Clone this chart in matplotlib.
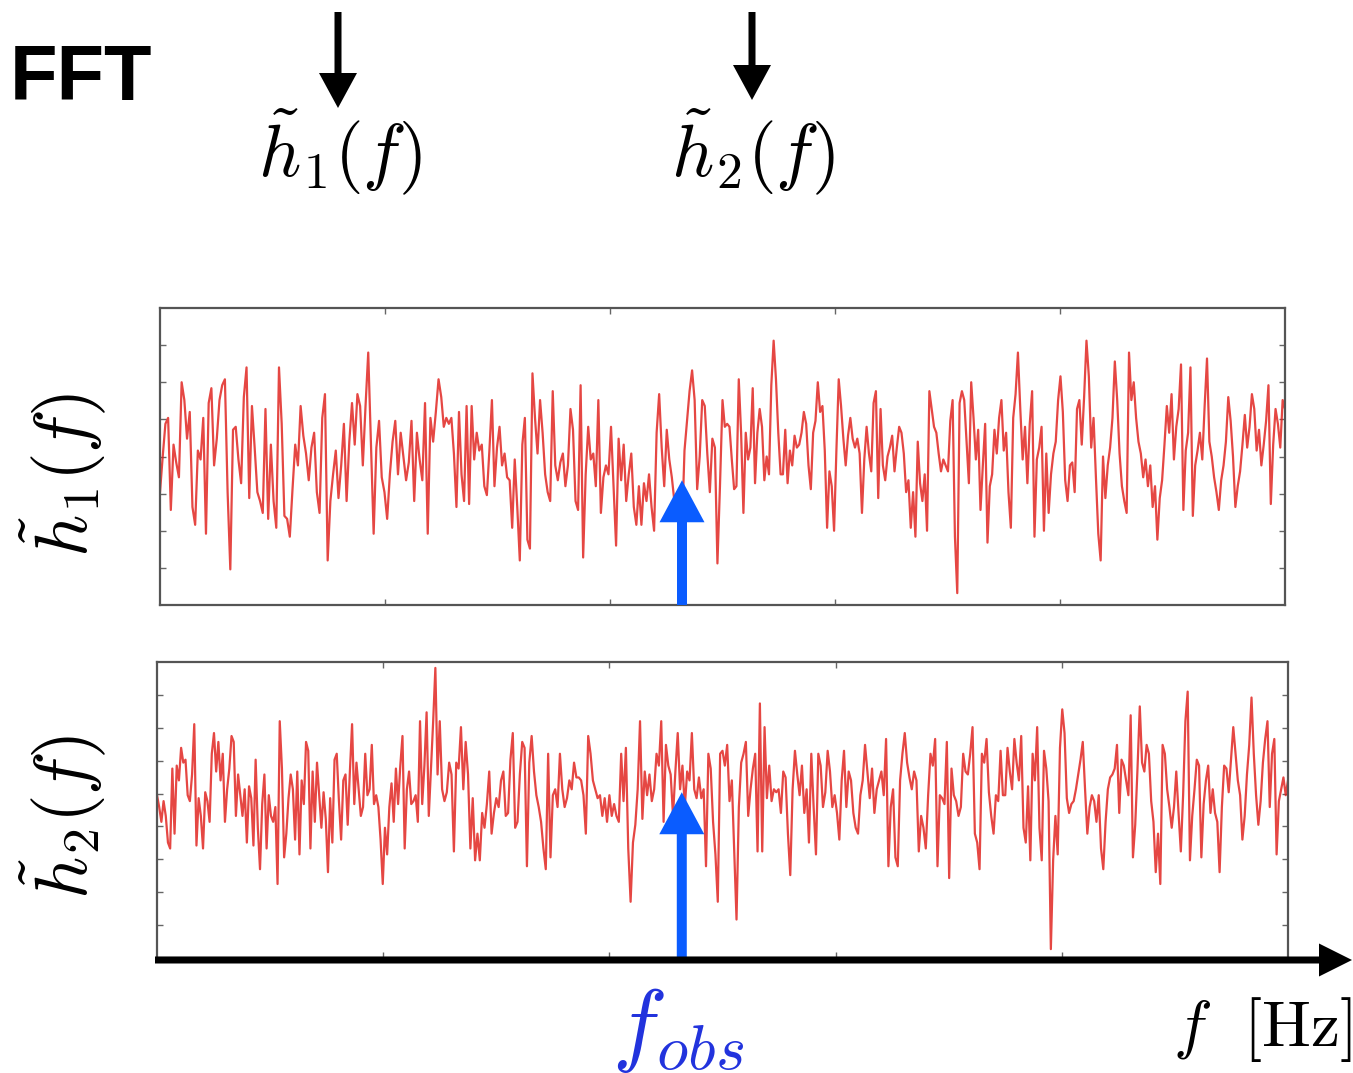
import numpy as np
import matplotlib.pyplot as plt
from matplotlib.patches import FancyArrow

plt.rcParams['mathtext.fontset'] = 'cm'

# |h1(f)|, one list per quarter of the band (0-100 = panel height)
h1_q1 = [38, 50, 61, 63, 32, 54, 48, 43, 75, 69, 56, 65, 33, 27, 52, 49, 63, 24, 68, 73,
         47, 56, 69, 74, 76, 38, 12, 59, 60, 49, 41, 70, 80, 36, 67, 53, 38, 35, 31, 66,
         29, 54, 35, 26, 80, 61, 30, 29, 23, 39, 54, 47, 67, 57, 51, 42, 53, 58, 38, 31,
         63, 71, 15, 35, 44, 52, 36, 47, 61, 35, 55, 68, 54, 71, 67, 47, 67, 85, 55, 24,
         53, 62, 43, 38, 29, 44, 55, 62, 44, 58, 50, 42, 48, 62, 35, 58, 49, 42, 68, 24,
         63, 55, 65, 76]
h1_q2 = [70, 60, 63, 61, 63, 51, 33, 65, 44, 35, 67, 34, 67, 49, 58, 52, 54, 40, 37, 52,
         69, 40, 53, 60, 47, 51, 43, 42, 26, 49, 33, 15, 54, 63, 22, 19, 78, 63, 51, 69,
         58, 44, 38, 35, 72, 47, 42, 48, 51, 40, 47, 66, 59, 35, 32, 74, 16, 44, 60, 49,
         51, 40, 69, 31, 43, 47, 44, 60, 40, 20, 56, 42, 54, 35, 44, 51, 33, 27, 40, 27,
         41, 35, 44, 33, 25, 58, 71, 53, 40, 59, 49, 43, 35, 33, 31, 25, 52, 62, 72, 79,
         69, 39, 50, 69, 67, 51, 38, 56, 53, 14, 40]
h1_q3 = [69, 60, 61, 60, 49, 39, 40, 76, 58, 31, 58, 49, 53, 73, 41, 58, 66, 60, 42, 50,
         44, 74, 89, 76, 58, 44, 44, 59, 41, 52, 47, 57, 53, 54, 58, 65, 61, 47, 39, 58,
         62, 75, 65, 67, 52, 26, 45, 40, 25, 52, 76, 67, 56, 47, 57, 63, 56, 53, 56, 51,
         31, 49, 60, 51, 45, 68, 72, 36, 66, 47, 42, 50, 53, 57, 45, 53, 60, 58, 51, 38,
         42, 26, 38, 23, 55, 41, 35, 44, 25, 72, 66, 60, 58, 51, 45, 49, 47, 45, 62, 69,
         23, 4, 68, 72, 69, 55, 41, 75, 63, 49, 59, 32, 47, 61, 21, 40, 44, 59, 51, 63, 69]
h1_q4 = [52, 58, 38, 26, 63, 71, 85, 66, 49, 60, 41, 61, 72, 23, 49, 53, 60, 25, 51, 31,
         44, 51, 55, 69, 77, 65, 42, 35, 47, 48, 38, 66, 69, 54, 70, 89, 77, 53, 63, 43,
         24, 15, 50, 36, 47, 53, 63, 82, 69, 51, 40, 35, 31, 85, 69, 75, 63, 55, 51, 43,
         49, 40, 47, 33, 40, 22, 36, 42, 54, 67, 58, 71, 49, 60, 66, 81, 32, 52, 58, 80,
         30, 47, 52, 58, 49, 67, 83, 55, 50, 43, 38, 32, 42, 47, 55, 70, 62, 50, 33, 40,
         45, 54, 64, 53, 60, 71, 66, 52, 59, 47, 54, 62, 74, 34, 54, 66, 61, 53, 69, 66]

# |h2(f)| from the lower panel
h2_q1 = [55, 51, 46, 53, 48, 39, 37, 64, 42, 65, 60, 71, 66, 67, 55, 53, 62, 79, 38, 54,
         48, 37, 56, 53, 46, 69, 76, 63, 73, 60, 69, 46, 57, 64, 75, 73, 48, 62, 55, 48,
         57, 39, 58, 54, 38, 67, 44, 30, 52, 62, 37, 55, 48, 46, 51, 25, 80, 64, 34, 42,
         54, 62, 57, 40, 63, 35, 60, 52, 73, 70, 37, 63, 46, 66, 55, 44, 56, 47, 29, 54,
         39, 67, 69, 53, 40, 60, 62, 45, 63, 79, 52, 66, 57, 48, 51, 69, 55, 57, 72, 52,
         55, 51, 40, 25, 44, 35, 51, 59, 46, 64, 52, 65, 75, 37, 57, 63, 52, 53, 55, 46,
         80, 52, 65, 83, 48, 64, 80, 98, 62]
h2_q2 = [80, 57, 53, 56, 66, 62, 36, 66, 64, 78, 57, 73, 62, 37, 54, 33, 42, 33, 49, 44,
         52, 63, 42, 49, 54, 51, 60, 63, 48, 49, 67, 76, 44, 46, 62, 73, 71, 31, 66, 75,
         63, 55, 51, 46, 37, 30, 69, 34, 55, 57, 51, 69, 57, 51, 54, 60, 57, 66, 61, 61,
         60, 55, 42, 75, 69, 60, 57, 54, 55, 48, 54, 46, 55, 48, 52, 48, 46, 69, 53, 71,
         37, 19, 39, 45, 57, 80, 47, 63, 55, 62, 53, 57, 69, 65, 80, 46, 72, 65, 62, 48,
         63, 76, 57, 65, 51, 63, 60, 76, 57, 54, 61, 54, 57, 31, 69, 64, 46, 35, 19, 69]
h2_q3 = [70, 65, 72, 53, 60, 37, 13, 51, 66, 69, 73, 48, 57, 64, 69, 36, 86, 36, 78, 54,
         65, 53, 57, 56, 57, 49, 63, 61, 42, 28, 57, 70, 62, 55, 65, 49, 57, 39, 69, 51,
         35, 69, 65, 51, 56, 70, 63, 51, 55, 49, 40, 60, 70, 51, 63, 60, 49, 44, 42, 55,
         60, 72, 63, 54, 64, 49, 57, 60, 63, 55, 74, 31, 51, 57, 34, 31, 60, 69, 76, 66,
         61, 57, 63, 60, 36, 48, 44, 37, 55, 69, 65, 74, 31, 55, 54, 52, 73, 27, 64, 55,
         53, 48, 51, 69, 63, 62, 69, 78, 42, 39, 30, 69, 66, 74, 56, 48, 42, 55, 53, 70, 55]
h2_q4 = [55, 71, 63, 57, 74, 66, 60, 75, 44, 39, 58, 33, 69, 60, 78, 44, 33, 70, 64, 53,
         3, 33, 48, 35, 71, 84, 76, 54, 49, 52, 53, 57, 62, 67, 73, 57, 42, 51, 55, 53,
         46, 55, 37, 30, 46, 57, 61, 62, 64, 72, 49, 67, 65, 60, 55, 82, 34, 45, 64, 85,
         66, 63, 72, 69, 53, 46, 29, 42, 25, 72, 69, 57, 51, 44, 51, 63, 49, 36, 55, 80,
         90, 33, 48, 57, 67, 65, 34, 52, 60, 65, 49, 57, 49, 46, 29, 51, 65, 64, 56, 67,
         78, 69, 60, 55, 40, 48, 62, 72, 88, 69, 55, 45, 53, 66, 74, 80, 51, 69, 74, 35,
         53, 57, 61, 55, 60]

f_obs = 0.464          # fraction of the plotted band
h1_tip, h2_tip = 42, 56  # where the blue arrows stop (% of panel height)

W, H = 1353, 1073
fig = plt.figure(figsize=(W / 100, H / 100), dpi=100)
ax1 = fig.add_axes([160 / W, 1 - 605 / H, 1125 / W, 297 / H])
ax2 = fig.add_axes([157 / W, 1 - 958 / H, 1131 / W, 296 / H])


def spread(bands):
    xs = [np.linspace(k / 4, (k + 1) / 4, len(b), endpoint=(k == 3)) for k, b in enumerate(bands)]
    return np.concatenate(xs), np.concatenate(bands)


for ax, bands, ndiv in [(ax1, [h1_q1, h1_q2, h1_q3, h1_q4], 8),
                        (ax2, [h2_q1, h2_q2, h2_q3, h2_q4], 9)]:
    x, y = spread(bands)
    ax.plot(x, y, color='#e01e1a', lw=1.6, alpha=0.82)
    ax.set_xlim(0, 1)
    ax.set_ylim(0, 100)
    ax.set_xticks([0.2, 0.4, 0.6, 0.8])
    ax.set_yticks(np.linspace(0, 100, ndiv + 1)[1:-1])
    ax.tick_params(direction='in', length=4, width=1, color='#666666',
                   top=True, right=True, labelleft=False, labelbottom=False)
    for s in ax.spines.values():
        s.set_color('#555555')
        s.set_linewidth(1.6)

# overlay in pixel units for arrows and labels
ov = fig.add_axes([0, 0, 1, 1])
ov.set_xlim(0, W)
ov.set_ylim(0, H)
ov.axis('off')
ov.patch.set_alpha(0)

blue = '#0a5cff'
for ax, tip in [(ax1, h1_tip), (ax2, h2_tip)]:
    x0, y0 = ax.transData.transform((f_obs, 0))
    _, y1 = ax.transData.transform((f_obs, tip))
    ov.add_patch(FancyArrow(x0, y0, 0, y1 - y0, width=10, head_width=45, head_length=42,
                            length_includes_head=True, color=blue, lw=0))

# frequency axis
ov.add_patch(FancyArrow(155, H - 960, 1197, 0, width=7, head_width=33, head_length=33,
                        length_includes_head=True, color='black', lw=0))
# FFT arrows at the top
ov.add_patch(FancyArrow(338, H - 12, 0, -96, width=7, head_width=38, head_length=35,
                        length_includes_head=True, color='black', lw=0))
ov.add_patch(FancyArrow(752, H - 12, 0, -88, width=7, head_width=38, head_length=35,
                        length_includes_head=True, color='black', lw=0))

ov.text(81, H - 79, 'FFT', fontsize=56, fontweight='bold', family='Liberation Sans',
        ha='center', va='center')
ov.text(340, H - 152, r'$\tilde{h}_1(f)$', fontsize=53, ha='center', va='center')
ov.text(753, H - 152, r'$\tilde{h}_2(f)$', fontsize=53, ha='center', va='center')
ov.text(63, H - 475, r'$\tilde{h}_1(f)$', fontsize=53, ha='center', va='center', rotation=90)
ov.text(63, H - 817, r'$\tilde{h}_2(f)$', fontsize=53, ha='center', va='center', rotation=90)
ov.text(678, H - 1030, r'$f_{obs}$', fontsize=66, color='#2233dd', ha='center', va='center')
ov.text(1262, H - 1030, r'$f\ \ [\mathrm{Hz}]$', fontsize=47, ha='center', va='center')

fig.savefig('out.png', dpi=100)
